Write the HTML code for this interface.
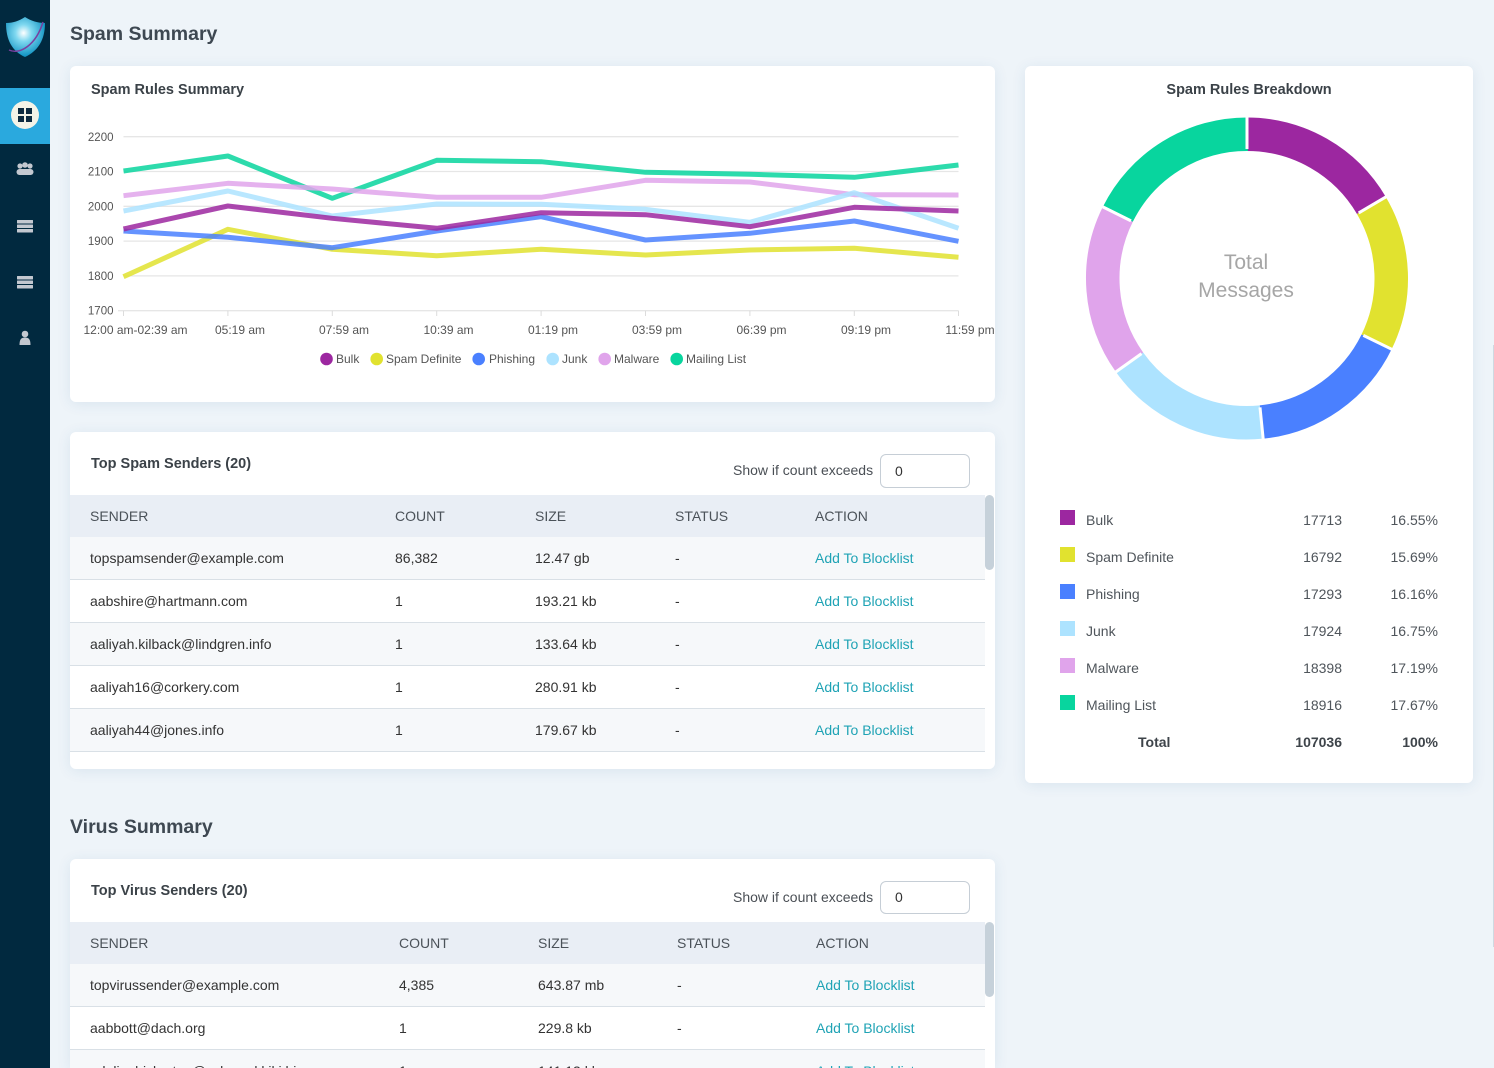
<!DOCTYPE html>
<html><head><meta charset="utf-8"><style>
*{margin:0;padding:0;box-sizing:border-box}
html{width:1494px;height:1068px;overflow:hidden}
body{width:1494px;height:1068px;overflow:hidden;background:#eef4f9;font-family:"Liberation Sans",Arial,sans-serif;position:relative;color:#333}
.abs{position:absolute}
.side{left:0;top:0;width:50px;height:1068px;background:#01293f}
.card{position:absolute;background:#fff;border-radius:6px;box-shadow:0 2px 14px rgba(40,100,150,0.10)}
h1{position:absolute;font-size:19.5px;font-weight:bold;color:#3e4852;line-height:24px}
.ct{position:absolute;font-size:14.5px;font-weight:bold;color:#3b4248;line-height:18px}
.show{position:absolute;font-size:14px;color:#4a4f55;line-height:18px}
.inp{position:absolute;width:90px;border:1px solid #c6ced6;border-radius:6px;background:#fff;font-size:14px;color:#333;padding-left:14px}
.row{position:absolute;left:0;width:915px;height:43px;border-bottom:1px solid #d9e0e6;font-size:14px;line-height:42px;color:#333}
.row.s{background:#f6f8fa}
.row.h{background:#e9eef5;color:#4b5259}
.row span{position:absolute;top:0}
.lnk{color:#1fa3b5}
.sb{position:absolute;width:9px;border-radius:5px;background:#c6d1da}
.lg{position:absolute;font-size:14px;color:#4f555b;line-height:18px}
</style></head><body>
<div class="abs side"></div>
<!-- logo -->
<svg class="abs" style="left:0;top:0" width="50" height="144" viewBox="0 0 50 144">
<defs><radialGradient id="lg1" cx="0.45" cy="0.4" r="0.6"><stop offset="0" stop-color="#ffffff"/><stop offset="0.35" stop-color="#7fd8f0"/><stop offset="1" stop-color="#0b8fc0"/></radialGradient></defs>
<path d="M25 17 C31 21 38 23 45 23 C45 40 38 51 25 57 C12 51 6 40 6 23 C13 23 19 21 25 17 Z" fill="url(#lg1)"/>
<path d="M9 50 C20 55 36 45 43 22" stroke="#7a3fa0" stroke-width="1.5" fill="none"/>
<rect x="0" y="88" width="50" height="56" fill="#2aa9de"/>
<circle cx="25" cy="115" r="14" fill="#f4f4e8"/>
<rect x="18" y="108" width="6" height="6" fill="#0d2b40"/><rect x="26" y="108" width="6" height="6" fill="#0d2b40"/>
<rect x="18" y="116" width="6" height="6" fill="#0d2b40"/><rect x="26" y="116" width="6" height="6" fill="#0d2b40"/>
</svg>
<svg class="abs" style="left:0;top:150" width="50" height="200" viewBox="0 150 50 200">
<g fill="#c3c8d0">
<circle cx="20" cy="166" r="2.6"/><circle cx="25" cy="165" r="2.8"/><circle cx="30" cy="166" r="2.6"/>
<rect x="16.5" y="169" width="17" height="6" rx="3"/>
<rect x="17" y="220" width="16" height="3.5" rx="0.5"/><rect x="17" y="224.5" width="16" height="3.5" rx="0.5"/><rect x="17" y="229" width="16" height="3.5" rx="0.5"/>
<rect x="17" y="276" width="16" height="3.5" rx="0.5"/><rect x="17" y="280.5" width="16" height="3.5" rx="0.5"/><rect x="17" y="285" width="16" height="3.5" rx="0.5"/>
<circle cx="25" cy="334" r="3.3"/><path d="M19.5 345 C19.5 339 21.5 337.5 25 337.5 C28.5 337.5 30.5 339 30.5 345 Z"/>
</g></svg>

<h1 style="left:70px;top:22px">Spam Summary</h1>

<!-- Card: Spam Rules Summary -->
<div class="card" style="left:70px;top:66px;width:925px;height:336px"></div>
<div class="ct" style="left:91px;top:81px">Spam Rules Summary</div>

<!-- Card: breakdown -->
<div class="card" style="left:1025px;top:66px;width:448px;height:717px"></div>
<div class="ct" style="left:1025px;top:81px;width:448px;text-align:center">Spam Rules Breakdown</div>

<!-- Card: top spam senders -->
<div class="card" style="left:70px;top:432px;width:925px;height:337px;overflow:hidden">
  <div class="row h" style="top:63px;height:43px;border-bottom:1px solid #d5dce3"><span style="left:20px">SENDER</span><span style="left:325px">COUNT</span><span style="left:465px">SIZE</span><span style="left:605px">STATUS</span><span style="left:745px">ACTION</span></div>
  <div class="row s" style="top:105px"><span style="left:20px">topspamsender@example.com</span><span style="left:325px">86,382</span><span style="left:465px">12.47 gb</span><span style="left:605px">-</span><span style="left:745px" class="lnk">Add To Blocklist</span></div>
  <div class="row" style="top:148px"><span style="left:20px">aabshire@hartmann.com</span><span style="left:325px">1</span><span style="left:465px">193.21 kb</span><span style="left:605px">-</span><span style="left:745px" class="lnk">Add To Blocklist</span></div>
  <div class="row s" style="top:191px"><span style="left:20px">aaliyah.kilback@lindgren.info</span><span style="left:325px">1</span><span style="left:465px">133.64 kb</span><span style="left:605px">-</span><span style="left:745px" class="lnk">Add To Blocklist</span></div>
  <div class="row" style="top:234px"><span style="left:20px">aaliyah16@corkery.com</span><span style="left:325px">1</span><span style="left:465px">280.91 kb</span><span style="left:605px">-</span><span style="left:745px" class="lnk">Add To Blocklist</span></div>
  <div class="row s" style="top:277px"><span style="left:20px">aaliyah44@jones.info</span><span style="left:325px">1</span><span style="left:465px">179.67 kb</span><span style="left:605px">-</span><span style="left:745px" class="lnk">Add To Blocklist</span></div>
  <div class="sb" style="left:915px;top:63px;height:75px"></div>
</div>
<div class="ct" style="left:91px;top:455px">Top Spam Senders (20)</div>
<div class="show" style="left:733px;top:461px">Show if count exceeds</div>
<div class="inp" style="left:880px;top:454px;height:34px;line-height:32px">0</div>

<h1 style="left:70px;top:815px">Virus Summary</h1>

<!-- Card: virus -->
<div class="card" style="left:70px;top:859px;width:925px;height:209px;overflow:hidden;border-radius:6px 6px 0 0">
  <div class="row h" style="top:63px;height:43px;border-bottom:1px solid #d5dce3"><span style="left:20px">SENDER</span><span style="left:329px">COUNT</span><span style="left:468px">SIZE</span><span style="left:607px">STATUS</span><span style="left:746px">ACTION</span></div>
  <div class="row s" style="top:105px"><span style="left:20px">topvirussender@example.com</span><span style="left:329px">4,385</span><span style="left:468px">643.87 mb</span><span style="left:607px">-</span><span style="left:746px" class="lnk">Add To Blocklist</span></div>
  <div class="row" style="top:148px"><span style="left:20px">aabbott@dach.org</span><span style="left:329px">1</span><span style="left:468px">229.8 kb</span><span style="left:607px">-</span><span style="left:746px" class="lnk">Add To Blocklist</span></div>
  <div class="row s" style="top:191px"><span style="left:20px">adalinehickerton@schmeckkiki.biz</span><span style="left:329px">1</span><span style="left:468px">141.13 kb</span><span style="left:607px">-</span><span style="left:746px" class="lnk">Add To Blocklist</span></div>
  <div class="sb" style="left:915px;top:63px;height:75px"></div>
</div>
<div class="ct" style="left:91px;top:882px">Top Virus Senders (20)</div>
<div class="show" style="left:733px;top:888px">Show if count exceeds</div>
<div class="inp" style="left:880px;top:881px;height:33px;line-height:31px">0</div>

<!-- breakdown legend -->
<div class="abs" style="left:1060px;top:510px;width:15px;height:15px;background:#9c27a0"></div>
<div class="abs" style="left:1060px;top:547px;width:15px;height:15px;background:#e1e22f"></div>
<div class="abs" style="left:1060px;top:584px;width:15px;height:15px;background:#4a80ff"></div>
<div class="abs" style="left:1060px;top:621px;width:15px;height:15px;background:#ade3ff"></div>
<div class="abs" style="left:1060px;top:658px;width:15px;height:15px;background:#e0a4eb"></div>
<div class="abs" style="left:1060px;top:695px;width:15px;height:15px;background:#08d59e"></div>
<div class="lg" style="left:1086px;top:511px">Bulk</div>
<div class="lg" style="left:1086px;top:548px">Spam Definite</div>
<div class="lg" style="left:1086px;top:585px">Phishing</div>
<div class="lg" style="left:1086px;top:622px">Junk</div>
<div class="lg" style="left:1086px;top:659px">Malware</div>
<div class="lg" style="left:1086px;top:696px">Mailing List</div>
<div class="lg" style="left:1242px;width:100px;text-align:right;top:511px">17713</div>
<div class="lg" style="left:1242px;width:100px;text-align:right;top:548px">16792</div>
<div class="lg" style="left:1242px;width:100px;text-align:right;top:585px">17293</div>
<div class="lg" style="left:1242px;width:100px;text-align:right;top:622px">17924</div>
<div class="lg" style="left:1242px;width:100px;text-align:right;top:659px">18398</div>
<div class="lg" style="left:1242px;width:100px;text-align:right;top:696px">18916</div>
<div class="lg" style="left:1338px;width:100px;text-align:right;top:511px">16.55%</div>
<div class="lg" style="left:1338px;width:100px;text-align:right;top:548px">15.69%</div>
<div class="lg" style="left:1338px;width:100px;text-align:right;top:585px">16.16%</div>
<div class="lg" style="left:1338px;width:100px;text-align:right;top:622px">16.75%</div>
<div class="lg" style="left:1338px;width:100px;text-align:right;top:659px">17.19%</div>
<div class="lg" style="left:1338px;width:100px;text-align:right;top:696px">17.67%</div>
<div class="lg" style="left:1138px;top:733px;font-weight:bold;color:#3e444a">Total</div>
<div class="lg" style="left:1242px;width:100px;text-align:right;top:733px;font-weight:bold;color:#3e444a">107036</div>
<div class="lg" style="left:1338px;width:100px;text-align:right;top:733px;font-weight:bold;color:#3e444a">100%</div>

<div class="abs" style="left:1493px;top:345px;width:1px;height:602px;background:#cfd9e2"></div>

<svg class="abs" style="left:0;top:0" width="1494" height="1068" viewBox="0 0 1494 1068" font-family="Liberation Sans, Arial, sans-serif">
<!-- grid -->
<g stroke="#e6e6e6" stroke-width="1.3">
<line x1="123.5" y1="136.7" x2="958.5" y2="136.7"/>
<line x1="123.5" y1="171.5" x2="958.5" y2="171.5"/>
<line x1="123.5" y1="206.3" x2="958.5" y2="206.3"/>
<line x1="123.5" y1="241.1" x2="958.5" y2="241.1"/>
<line x1="123.5" y1="275.9" x2="958.5" y2="275.9"/>
<line x1="118" y1="310.7" x2="958.5" y2="310.7"/>
</g>
<g stroke="#dcdcdc" stroke-width="1">
<line x1="123.5" y1="310.7" x2="123.5" y2="316"/><line x1="227.9" y1="310.7" x2="227.9" y2="316"/>
<line x1="332.3" y1="310.7" x2="332.3" y2="316"/><line x1="436.7" y1="310.7" x2="436.7" y2="316"/>
<line x1="541.1" y1="310.7" x2="541.1" y2="316"/><line x1="645.5" y1="310.7" x2="645.5" y2="316"/>
<line x1="749.9" y1="310.7" x2="749.9" y2="316"/><line x1="854.3" y1="310.7" x2="854.3" y2="316"/>
<line x1="958.5" y1="310.7" x2="958.5" y2="316"/>
</g>
<g font-size="11.5" fill="#555" text-anchor="end">
<text x="113.5" y="141">2200</text><text x="113.5" y="175.5">2100</text><text x="113.5" y="210.5">2000</text>
<text x="113.5" y="245">1900</text><text x="113.5" y="280">1800</text><text x="113.5" y="314.5">1700</text>
</g>
<g font-size="12" fill="#555" text-anchor="middle">
<text x="135.5" y="334">12:00 am-02:39 am</text><text x="240" y="334">05:19 am</text><text x="344" y="334">07:59 am</text>
<text x="448.5" y="334">10:39 am</text><text x="553" y="334">01:19 pm</text><text x="657" y="334">03:59 pm</text>
<text x="761.5" y="334">06:39 pm</text><text x="866" y="334">09:19 pm</text><text x="970" y="334">11:59 pm</text>
</g>
<g fill="none" stroke-width="5" stroke-linejoin="round" stroke-linecap="butt" stroke-opacity="0.85">
<polyline stroke="#08d59e" points="123.5,171 227.9,156 332.3,198.3 436.7,160.3 541.1,161.7 645.5,172.3 749.9,174.3 854.3,177.3 958.5,165"/>
<polyline stroke="#e0a4eb" points="123.5,195.7 227.9,183.3 332.3,189 436.7,197.3 541.1,197.3 645.5,180.3 749.9,182 854.3,194.7 958.5,195"/>
<polyline stroke="#ade3ff" points="123.5,211 227.9,191 332.3,216 436.7,204 541.1,204.3 645.5,209.3 749.9,222.3 854.3,192.7 958.5,228.3"/>
<polyline stroke="#e1e22f" points="123.5,276.7 227.9,229.3 332.3,249.3 436.7,255.7 541.1,249.3 645.5,255 749.9,250 854.3,248.3 958.5,257.3"/>
<polyline stroke="#4a80ff" points="123.5,231 227.9,237.3 332.3,247.7 436.7,231 541.1,216.7 645.5,240 749.9,233.3 854.3,221 958.5,241.3"/>
<polyline stroke="#9c27a0" points="123.5,229 227.9,206 332.3,218.3 436.7,228.3 541.1,212.7 645.5,214.7 749.9,226.7 854.3,207.3 958.5,211"/>
</g>
<!-- legend -->
<g font-size="12" fill="#555">
<circle cx="326.5" cy="359" r="6.3" fill="#9c27a0"/><text x="336" y="363.2">Bulk</text>
<circle cx="376.7" cy="359" r="6.3" fill="#e1e22f"/><text x="386" y="363.2">Spam Definite</text>
<circle cx="478.7" cy="359" r="6.3" fill="#4a80ff"/><text x="489" y="363.2">Phishing</text>
<circle cx="552.7" cy="359" r="6.3" fill="#ade3ff"/><text x="562" y="363.2">Junk</text>
<circle cx="604.7" cy="359" r="6.3" fill="#e0a4eb"/><text x="614" y="363.2">Malware</text>
<circle cx="676.7" cy="359" r="6.3" fill="#08d59e"/><text x="686" y="363.2">Mailing List</text>
</g>
<!-- donut -->
<g fill="none" stroke-width="33.5">
<circle cx="1247" cy="278.5" r="144.25" stroke="#9c27a0" stroke-dasharray="150 906.35" transform="rotate(-90 1247 278.5)"/>
<circle cx="1247" cy="278.5" r="144.25" stroke="#e1e22f" stroke-dasharray="142.3 906.35" transform="rotate(-30.42 1247 278.5)"/>
<circle cx="1247" cy="278.5" r="144.25" stroke="#4a80ff" stroke-dasharray="146.6 906.35" transform="rotate(26.06 1247 278.5)"/>
<circle cx="1247" cy="278.5" r="144.25" stroke="#ade3ff" stroke-dasharray="151.9 906.35" transform="rotate(84.24 1247 278.5)"/>
<circle cx="1247" cy="278.5" r="144.25" stroke="#e0a4eb" stroke-dasharray="155.9 906.35" transform="rotate(144.54 1247 278.5)"/>
<circle cx="1247" cy="278.5" r="144.25" stroke="#08d59e" stroke-dasharray="161 906.35" transform="rotate(206.42 1247 278.5)"/>
</g>
<g stroke="#fff" stroke-width="3">
<line x1="1247" y1="115" x2="1247" y2="149" transform="rotate(0 1247 278.5)"/>
<line x1="1247" y1="115" x2="1247" y2="149" transform="rotate(59.58 1247 278.5)"/>
<line x1="1247" y1="115" x2="1247" y2="149" transform="rotate(116.06 1247 278.5)"/>
<line x1="1247" y1="115" x2="1247" y2="149" transform="rotate(174.24 1247 278.5)"/>
<line x1="1247" y1="115" x2="1247" y2="149" transform="rotate(234.54 1247 278.5)"/>
<line x1="1247" y1="115" x2="1247" y2="149" transform="rotate(296.42 1247 278.5)"/>
</g>
<g font-size="21" fill="#a6a6a6" text-anchor="middle">
<text x="1246" y="269">Total</text><text x="1246" y="297">Messages</text>
</g>
</svg>
</body></html>
